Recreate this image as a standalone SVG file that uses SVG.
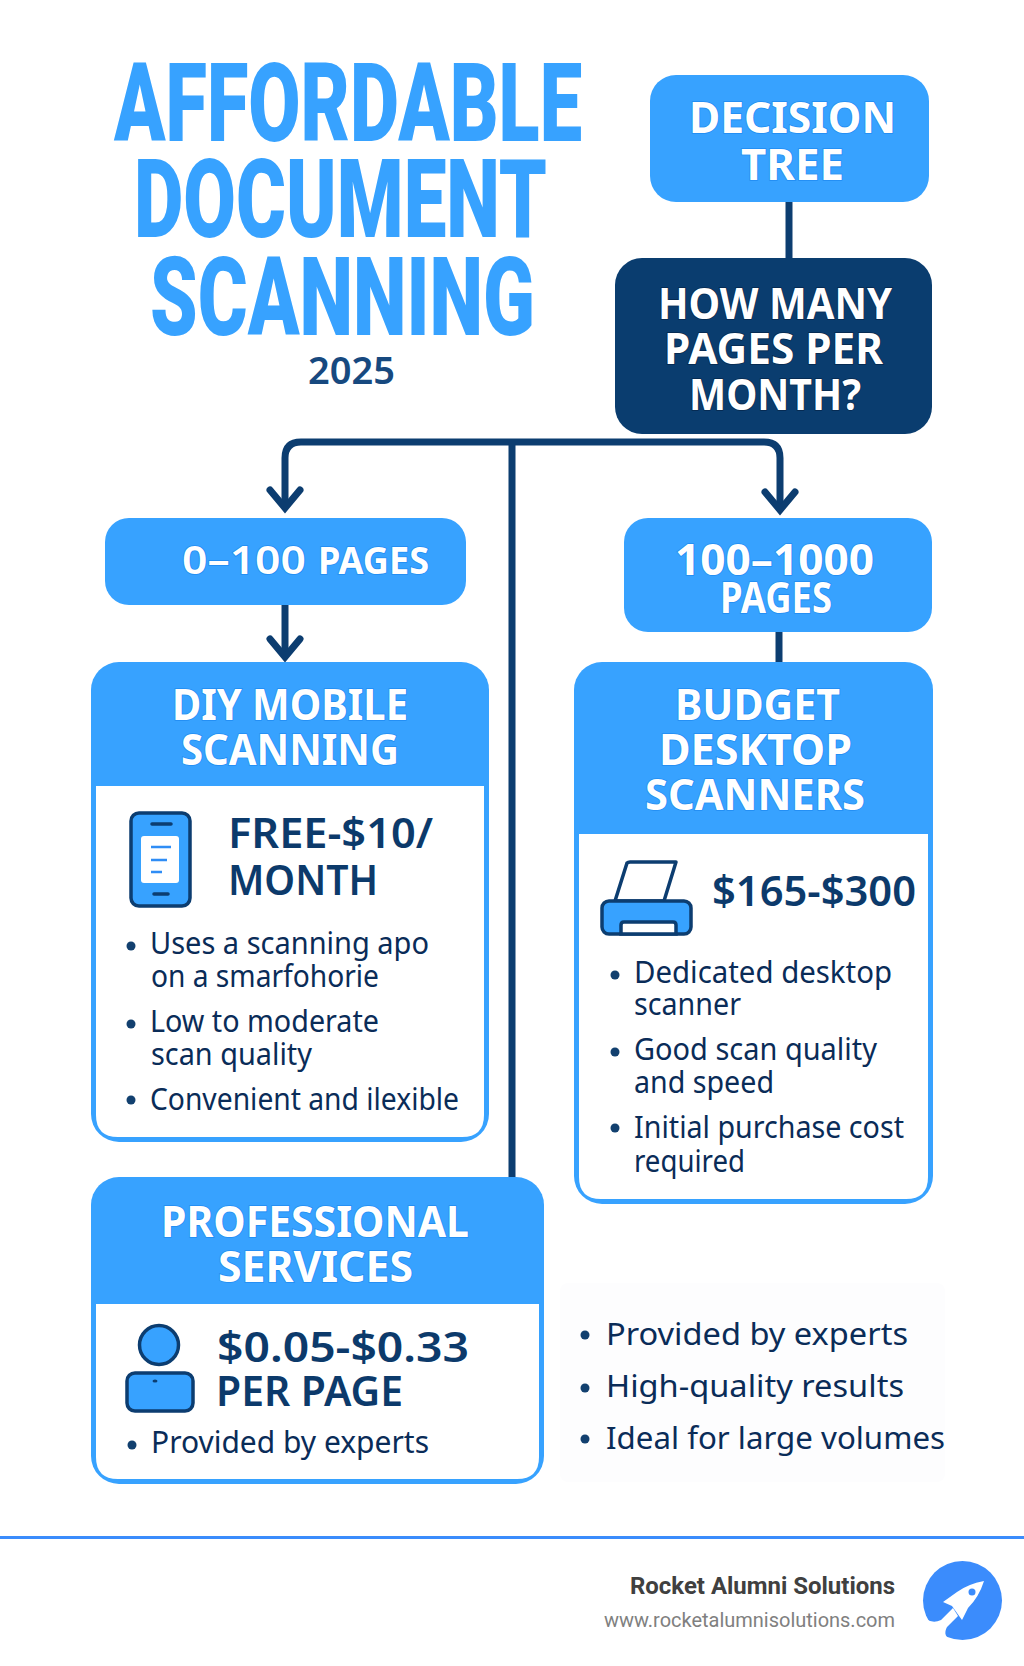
<svg xmlns="http://www.w3.org/2000/svg" width="1024" height="1666" viewBox="0 0 1024 1666">
<style>
.b{fill:#37a2ff}
.t{font-family:"Roboto","Liberation Sans",sans-serif;font-weight:900;fill:#37a2ff}
.h{font-family:"Noto Sans","Liberation Sans",sans-serif;font-weight:700;font-size:43px;fill:#fff;stroke:#1f8cf2;stroke-width:1.6;paint-order:stroke}
.q{stroke:#06284d}
.p{font-family:"Noto Sans","Liberation Sans",sans-serif;font-weight:600;font-size:42px;fill:#0c3a6b}
.l{font-family:"Noto Sans","Liberation Sans",sans-serif;font-weight:400;font-size:31px;fill:#0a2c58}
.dot{fill:#12406f}
.line{fill:none;stroke:#0c3d70;stroke-width:7;stroke-linejoin:round}
.ic{stroke:#0c3d70;stroke-width:3.5}
</style>
<defs>
<marker id="arrow" markerUnits="userSpaceOnUse" markerWidth="40" markerHeight="30" refX="16" refY="19" orient="0" overflow="visible"><path d="M1 1 L16 19 L31 1" fill="none" stroke="#0c3d70" stroke-width="7" stroke-linecap="round" stroke-linejoin="miter"/></marker>
</defs>
<rect width="1024" height="1666" fill="#fff"/>
<g id="title">
<text class="t" x="114" y="141" font-size="110" textLength="468" lengthAdjust="spacingAndGlyphs">AFFORDABLE</text>
<text class="t" x="134" y="237" font-size="110" textLength="413" lengthAdjust="spacingAndGlyphs">DOCUMENT</text>
<text class="t" x="150" y="335" font-size="110" textLength="385" lengthAdjust="spacingAndGlyphs">SCANNING</text>
<text x="308" y="384" font-family="Noto Sans,Liberation Sans,sans-serif" font-weight="600" font-size="38" fill="#17497f" textLength="87" lengthAdjust="spacingAndGlyphs">2025</text>
</g>
<g id="connectors">
<path class="line" d="M789 202V258"/>
<path class="line" d="M512 442H301Q285 442 285 458V508" marker-end="url(#arrow)"/>
<path class="line" d="M512 442H764Q780 442 780 458V510" marker-end="url(#arrow)"/>
<path class="line" d="M512 442V1178"/>
<path class="line" d="M285 605V657" marker-end="url(#arrow)"/>
<path class="line" d="M779 632V662"/>
</g>
<g id="node-decision">
<rect class="b" x="650" y="75" width="279" height="127" rx="26"/>
<text class="h" x="689" y="133" font-size="46" textLength="207" lengthAdjust="spacingAndGlyphs">DECISION</text>
<text class="h" x="741" y="180" font-size="46" textLength="103" lengthAdjust="spacingAndGlyphs">TREE</text>
</g>
<g id="node-question">
<rect x="615" y="258" width="317" height="176" rx="27" fill="#0a3d6f"/>
<text class="h q" x="658" y="319" textLength="234" lengthAdjust="spacingAndGlyphs">HOW MANY</text>
<text class="h q" x="664" y="364" textLength="219" lengthAdjust="spacingAndGlyphs">PAGES PER</text>
<text class="h q" x="689" y="410" textLength="172" lengthAdjust="spacingAndGlyphs">MONTH?</text>
</g>
<g id="node-0-100">
<rect class="b" x="105" y="518" width="361" height="87" rx="24"/>
<text class="h" y="574"><tspan x="182" font-size="40" font-weight="600" textLength="124" lengthAdjust="spacingAndGlyphs">0–100</tspan> <tspan x="318" font-size="37" textLength="111" lengthAdjust="spacingAndGlyphs">PAGES</tspan></text>
</g>
<g id="node-100-1000">
<rect class="b" x="624" y="518" width="308" height="114" rx="24"/>
<text class="h" x="675" y="575" font-size="40" font-weight="600" textLength="199" lengthAdjust="spacingAndGlyphs">100–1000</text>
<text class="h" x="720" y="613" font-size="33" textLength="112" lengthAdjust="spacingAndGlyphs">PAGES</text>
</g>
<g id="node-diy">
<rect class="b" x="91" y="662" width="398" height="480" rx="28"/>
<path fill="#fff" d="M96 786H484V1115Q484 1137 462 1137H118Q96 1137 96 1115Z"/>
<text class="h" x="172" y="720" textLength="236" lengthAdjust="spacingAndGlyphs">DIY MOBILE</text>
<text class="h" x="181" y="765" textLength="218" lengthAdjust="spacingAndGlyphs">SCANNING</text>
<g id="icon-phone">
<rect class="b ic" x="131" y="813" width="59" height="93" rx="8"/>
<rect x="141" y="836" width="38" height="47" rx="3" fill="#fff"/>
<path d="M151 847H171M151 860H167M151 872H162" stroke="#2f8df5" stroke-width="2.5"/>
<path d="M152 824H171M154 894H168" stroke="#0c3d70" stroke-width="3.5" stroke-linecap="round"/>
</g>
<text class="p" x="228" y="848" textLength="205" lengthAdjust="spacingAndGlyphs">FREE-$10/</text>
<text class="p" x="228" y="895" textLength="150" lengthAdjust="spacingAndGlyphs">MONTH</text>
<circle class="dot" cx="131" cy="946" r="4.5"/><circle class="dot" cx="131" cy="1024" r="4.5"/><circle class="dot" cx="131" cy="1100" r="4.5"/>
<text class="l" x="150" y="954" textLength="279" lengthAdjust="spacingAndGlyphs">Uses a scanning apo</text>
<text class="l" x="151" y="987" textLength="228" lengthAdjust="spacingAndGlyphs">on a smarfohorie</text>
<text class="l" x="150" y="1032" textLength="229" lengthAdjust="spacingAndGlyphs">Low to moderate</text>
<text class="l" x="151" y="1065" textLength="161" lengthAdjust="spacingAndGlyphs">scan quality</text>
<text class="l" x="150" y="1110" textLength="309" lengthAdjust="spacingAndGlyphs">Convenient and ilexible</text>
</g>
<g id="node-budget">
<rect class="b" x="574" y="662" width="359" height="542" rx="28"/>
<path fill="#fff" d="M579 834H928V1177Q928 1199 906 1199H601Q579 1199 579 1177Z"/>
<text class="h" x="675" y="720" textLength="165" lengthAdjust="spacingAndGlyphs">BUDGET</text>
<text class="h" x="659" y="765" textLength="193" lengthAdjust="spacingAndGlyphs">DESKTOP</text>
<text class="h" x="645" y="810" textLength="220" lengthAdjust="spacingAndGlyphs">SCANNERS</text>
<g id="icon-printer">
<path d="M615 901L627 863Q628 862 630 862H676L664 901Z" fill="#fff" stroke="#0c3d70" stroke-width="3.5" stroke-linejoin="round"/>
<rect class="b ic" x="602" y="901" width="89" height="33" rx="7"/>
<path d="M621 934V925Q621 922 624 922H673Q676 922 676 925V934Z" fill="#fff" stroke="#0c3d70" stroke-width="3.5"/>
</g>
<text class="p" x="712" y="906" textLength="204" lengthAdjust="spacingAndGlyphs">$165-$300</text>
<circle class="dot" cx="615" cy="975" r="4.5"/><circle class="dot" cx="615" cy="1052" r="4.5"/><circle class="dot" cx="615" cy="1128" r="4.5"/>
<text class="l" x="634" y="983" textLength="258" lengthAdjust="spacingAndGlyphs">Dedicated desktop</text>
<text class="l" x="634" y="1015" textLength="107" lengthAdjust="spacingAndGlyphs">scanner</text>
<text class="l" x="634" y="1060" textLength="243" lengthAdjust="spacingAndGlyphs">Good scan quality</text>
<text class="l" x="634" y="1093" textLength="140" lengthAdjust="spacingAndGlyphs">and speed</text>
<text class="l" x="634" y="1138" textLength="270" lengthAdjust="spacingAndGlyphs">Initial purchase cost</text>
<text class="l" x="634" y="1172" textLength="111" lengthAdjust="spacingAndGlyphs">required</text>
</g>
<g id="node-professional">
<rect class="b" x="91" y="1177" width="453" height="307" rx="28"/>
<path fill="#fff" d="M96 1304H539V1457Q539 1479 517 1479H118Q96 1479 96 1457Z"/>
<text class="h" x="161" y="1237" textLength="308" lengthAdjust="spacingAndGlyphs">PROFESSIONAL</text>
<text class="h" x="218" y="1282" textLength="195" lengthAdjust="spacingAndGlyphs">SERVICES</text>
<g id="icon-person">
<circle class="b ic" cx="159" cy="1345" r="19.5"/>
<rect class="b ic" x="127" y="1373" width="66" height="38" rx="8"/>
<ellipse cx="155" cy="1381" rx="2.5" ry="1.5" fill="#0c3d70"/>
</g>
<text class="p" x="217" y="1362" textLength="252" lengthAdjust="spacingAndGlyphs">$0.05-$0.33</text>
<text class="p" x="216" y="1406" textLength="187" lengthAdjust="spacingAndGlyphs">PER PAGE</text>
<circle class="dot" cx="132" cy="1445" r="4.5"/>
<text class="l" x="151" y="1453" textLength="278" lengthAdjust="spacingAndGlyphs">Provided by experts</text>
</g>
<g id="node-benefits">
<rect x="560" y="1283" width="385" height="199" rx="8" fill="#fdfdfe"/>
<circle class="dot" cx="585" cy="1335" r="4.5"/><circle class="dot" cx="585" cy="1388" r="4.5"/><circle class="dot" cx="585" cy="1439" r="4.5"/>
<text class="l" x="606" y="1345" font-size="33" textLength="302" lengthAdjust="spacingAndGlyphs">Provided by experts</text>
<text class="l" x="606" y="1397" font-size="33" textLength="298" lengthAdjust="spacingAndGlyphs">High-quality results</text>
<text class="l" x="606" y="1449" font-size="33" textLength="339" lengthAdjust="spacingAndGlyphs">Ideal for large volumes</text>
</g>
<g id="footer">
<rect x="0" y="1536" width="1024" height="3" fill="#3b8cfc"/>
<text x="630" y="1594" font-family="Roboto,Liberation Sans,sans-serif" font-weight="700" font-size="24" fill="#404040" textLength="265" lengthAdjust="spacingAndGlyphs">Rocket Alumni Solutions</text>
<text x="604" y="1627" font-family="Roboto,Liberation Sans,sans-serif" font-size="20" fill="#808080" textLength="291" lengthAdjust="spacingAndGlyphs">www.rocketalumnisolutions.com</text>
<g id="logo">
<circle cx="962.500" cy="1600.500" r="39.500" fill="#3b8cfc"/>
<path d="M918 1610Q928 1626 941 1620L953 1608L958 1616L947 1627Q942 1636 952 1641L918 1645Z" fill="#fff"/>
<path d="M984 1581Q968 1584 957 1592L943 1602L952 1606L962 1620L968 1608Q979 1597 984 1581Z" fill="#fff"/>
<circle cx="972" cy="1592" r="3.500" fill="#3b8cfc"/>
</g>
</g>
</svg>
